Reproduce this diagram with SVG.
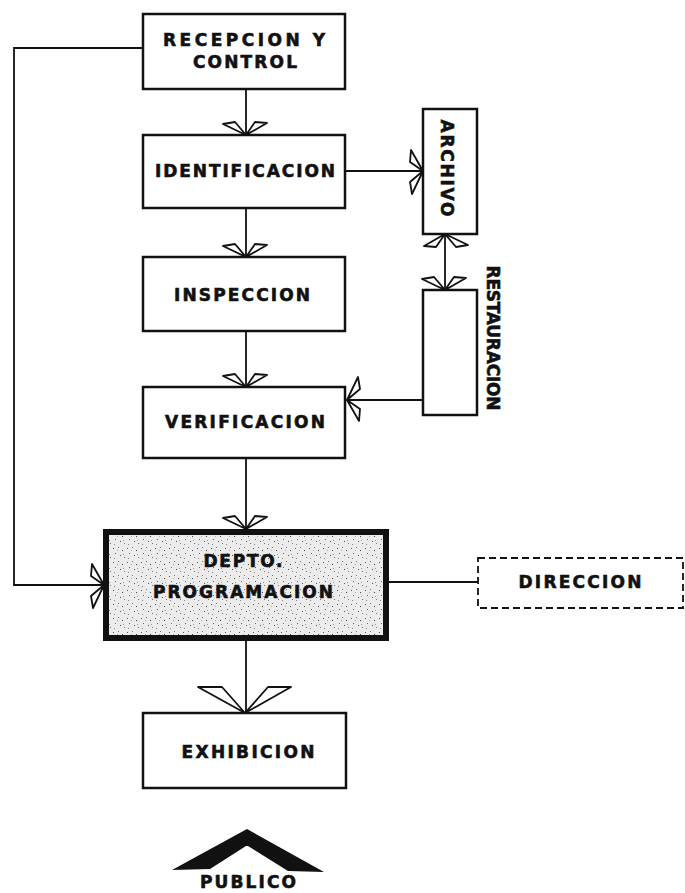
<svg xmlns="http://www.w3.org/2000/svg" width="685" height="893" viewBox="0 0 685 893">
<style>
.box{fill:#fff;stroke:#111;stroke-width:2.5}
.line{fill:none;stroke:#111;stroke-width:1.8}
.head{fill:#fff;stroke:#111;stroke-width:1.8;stroke-linejoin:round}
.t{font-family:"DejaVu Sans","Liberation Sans",Arial,sans-serif;font-weight:bold;font-size:17px;fill:#111;stroke:#111;stroke-width:0.6;text-anchor:middle;dominant-baseline:central}
</style>
<defs>
<pattern id="stip" width="14" height="14" patternUnits="userSpaceOnUse">
<rect width="14" height="14" fill="#ececec"/>
<rect x="1" y="2" width="1" height="1" fill="#555"/>
<rect x="6" y="1" width="1" height="1" fill="#777"/>
<rect x="10" y="4" width="1" height="1" fill="#444"/>
<rect x="3" y="7" width="1" height="1" fill="#666"/>
<rect x="8" y="9" width="1" height="1" fill="#555"/>
<rect x="12" y="11" width="1" height="1" fill="#777"/>
<rect x="2" y="12" width="1" height="1" fill="#888"/>
<rect x="5" y="4" width="1" height="1" fill="#aaa"/>
<rect x="11" y="8" width="1" height="1" fill="#999"/>
</pattern>
<g id="ah">
<polygon class="head" points="0,0 -23,-11 -11,-13"/>
<polygon class="head" points="0,0 9,-13 21,-12"/>
</g>
</defs>

<g id="connectors">
<polyline class="line" points="143,48 14,48 14,585 104,585"/>
<line class="line" x1="246" y1="89" x2="246" y2="135"/>
<line class="line" x1="246" y1="208" x2="246" y2="257"/>
<line class="line" x1="246" y1="331" x2="246" y2="387"/>
<line class="line" x1="246" y1="458" x2="246" y2="529"/>
<line class="line" x1="246" y1="639" x2="246" y2="713"/>
<line class="line" x1="345" y1="171" x2="423" y2="171"/>
<line class="line" x1="445" y1="234" x2="445" y2="290"/>
<line class="line" x1="423" y1="400" x2="347" y2="400"/>
<line class="line" x1="386" y1="582" x2="478" y2="582"/>
<use href="#ah" transform="translate(246,135)"/>
<use href="#ah" transform="translate(246,257)"/>
<use href="#ah" transform="translate(246,387)"/>
<use href="#ah" transform="translate(246,529)"/>
<use href="#ah" transform="translate(423,171) rotate(-90)"/>
<use href="#ah" transform="translate(445,234) rotate(180)"/>
<use href="#ah" transform="translate(445,290)"/>
<use href="#ah" transform="translate(347,400) rotate(90)"/>
<use href="#ah" transform="translate(104,585) rotate(-90)"/>
<polygon class="head" points="245,713 198,687 222,687"/>
<polygon class="head" points="245,713 268,687 291,687"/>
</g>

<g id="recepcion">
<rect class="box" x="143" y="14" width="202" height="75"/>
<text class="t" x="244" y="40" textLength="162" lengthAdjust="spacing">RECEPCION Y</text>
<text class="t" x="245" y="62" textLength="104" lengthAdjust="spacing">CONTROL</text>
</g>
<g id="identificacion">
<rect class="box" x="143" y="135" width="202" height="73"/>
<text class="t" x="245" y="171" textLength="180" lengthAdjust="spacing">IDENTIFICACION</text>
</g>
<g id="archivo">
<rect class="box" x="423" y="109" width="54" height="125"/>
<text class="t" transform="translate(447,168) rotate(90)" textLength="97" lengthAdjust="spacing">ARCHIVO</text>
</g>
<g id="inspeccion">
<rect class="box" x="143" y="257" width="202" height="74"/>
<text class="t" x="242" y="295" textLength="136" lengthAdjust="spacing">INSPECCION</text>
</g>
<g id="restauracion">
<rect class="box" x="423" y="290" width="54" height="125"/>
<text class="t" transform="translate(493,338) rotate(90)" textLength="145" lengthAdjust="spacing">RESTAURACION</text>
</g>
<g id="verificacion">
<rect class="box" x="143" y="387" width="202" height="71"/>
<text class="t" x="245" y="422" textLength="160" lengthAdjust="spacing">VERIFICACION</text>
</g>
<g id="depto">
<rect x="106" y="532" width="280" height="106" fill="url(#stip)" stroke="#111" stroke-width="6"/>
<text class="t" x="243" y="561" textLength="79" lengthAdjust="spacing">DEPTO.</text>
<text class="t" x="243" y="592" textLength="180" lengthAdjust="spacing">PROGRAMACION</text>
</g>
<g id="direccion">
<rect x="478" y="558" width="205" height="50" fill="#fff" stroke="#111" stroke-width="1.8" stroke-dasharray="7,4"/>
<text class="t" x="580" y="582" textLength="123" lengthAdjust="spacing">DIRECCION</text>
</g>
<g id="exhibicion">
<rect class="box" x="143" y="713" width="203" height="75"/>
<text class="t" x="248" y="752" textLength="133" lengthAdjust="spacing">EXHIBICION</text>
</g>
<g id="publico">
<polygon points="247,829 324,872 288,871 248,846 246,846 210,869 172,870" fill="#111"/>
<text class="t" x="248" y="882" textLength="96" lengthAdjust="spacing">PUBLICO</text>
</g>
</svg>
